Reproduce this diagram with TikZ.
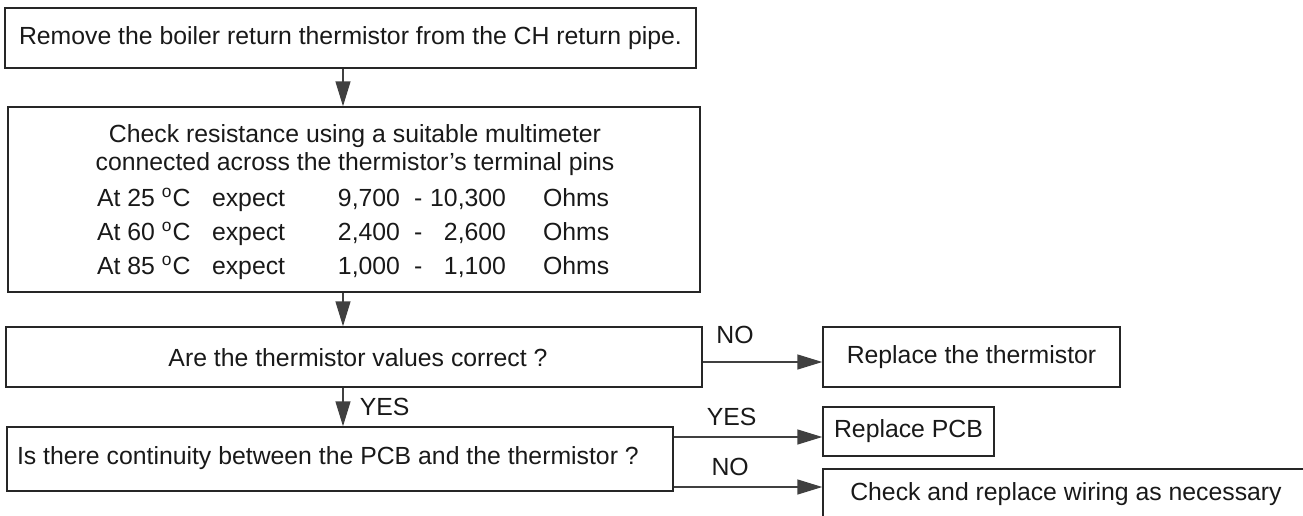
\documentclass[tikz,border=0pt]{standalone}
\usepackage{fontspec}
\setmainfont{Liberation Sans}
\usetikzlibrary{arrows.meta}
\tikzset{
  >={Triangle[length=12.5pt,width=7.5pt]},
  box/.style={draw=black!85, line width=0.75pt, rectangle, inner sep=0pt},
  flow/.style={draw=black!75, line width=0.75pt, ->},
  lbl/.style={inner sep=0pt},
  every node/.style={font=\fontsize{12.4}{14}\selectfont, text=black!90},
}
\newcommand{\ohmrow}[3]{%
  \makebox[57.5pt][l]{At #1 \textsuperscript{o}C}%
  \makebox[94pt][l]{expect\hfill #2}%
  \makebox[53pt][l]{\hspace{7pt}-\hfill #3}%
  \hspace{18.5pt}Ohms}

\begin{document}
\begin{tikzpicture}[x=0.5pt, y=-0.5pt]
\useasboundingbox (0,0) rectangle (1303,515);
\clip (0,0) rectangle (1303,515);
\coordinate (spine) at (343,0);

% main column
\node[box, minimum width=345.5pt, minimum height=30pt] (remove) at (350.5,38)
  {Remove the boiler return thermistor from the CH return pipe.};
\node[box, minimum width=346pt, minimum height=92.5pt] (check) at (354,199.5) {};
\node[anchor=base] (check1) at (355,142) {Check resistance using a suitable multimeter};
\node[anchor=base] (check2) at (355,170) {connected across the thermistor’s terminal pins};
\node[anchor=base west] (row25) at (90,206) {\ohmrow{25}{9,700}{10,300}};
\node[anchor=base west] (row60) at (90,240) {\ohmrow{60}{2,400}{2,600}};
\node[anchor=base west] (row85) at (90,274) {\ohmrow{85}{1,000}{1,100}};
\node[box, minimum width=348pt, minimum height=30pt] (values) at (354,357) {};
\node (valtxt) at (358,358) {Are the thermistor values correct ?};
\node[box, minimum width=333pt, minimum height=32pt] (cont) at (340,459) {};
\node[anchor=west] (conttxt) at (10,458) {Is there continuity between the PCB and the thermistor ?};

% outcomes
\node[box, minimum width=148.5pt, minimum height=30pt] (newtherm) at (971.5,357) {Replace the thermistor};
\node[box, minimum width=85.5pt, minimum height=24.5pt] (newpcb) at (908.5,431.5) {Replace PCB};
\node[box, minimum width=243pt, minimum height=25pt] (wiring) at (1066,494) {Check and replace wiring as necessary};

% connectors
\draw[flow] (remove.south -| spine) -- (check.north -| spine);
\draw[flow] (check.south -| spine) -- (values.north -| spine);
\draw[flow] (values.south -| spine) -- node[lbl, anchor=west, xshift=8pt] (yes1) {YES} (cont.north -| spine);
\draw[flow] ([yshift=-2.5pt]values.east) -- node[lbl, pos=0.27, anchor=base, yshift=9.25pt] (no1) {NO} ([yshift=-2.5pt]newtherm.west);
\draw[flow] ([yshift=-2.75pt]newpcb.west -| cont.east) -- node[lbl, pos=0.39, anchor=base, yshift=6pt] (yes2) {YES} ([yshift=-2.75pt]newpcb.west);
\draw[flow] ([yshift=3.5pt]wiring.west -| cont.east) -- node[lbl, pos=0.38, anchor=base, yshift=6pt] (no2) {NO} ([yshift=3.5pt]wiring.west);
\end{tikzpicture}
\end{document}
